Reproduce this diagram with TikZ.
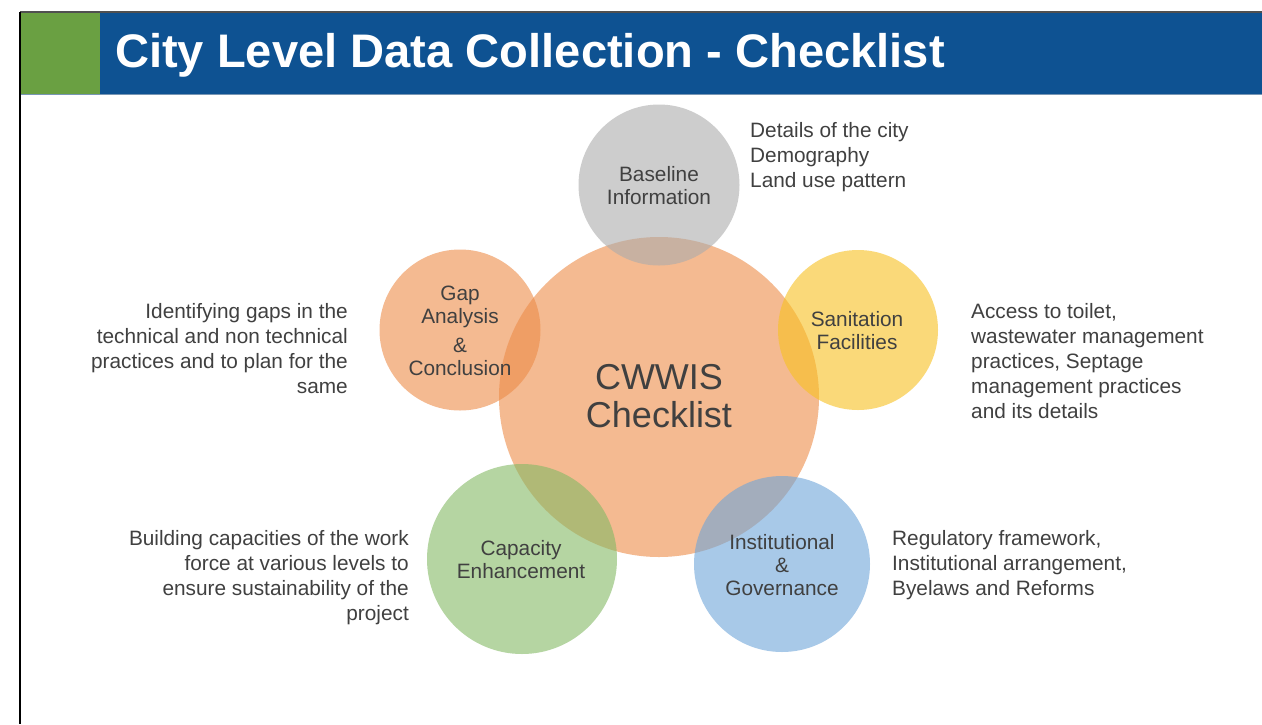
\documentclass[tikz,border=0pt]{standalone}
\usepackage{fontspec}
\setmainfont{Liberation Sans}
\definecolor{hdrblue}{RGB}{14,82,146}
\definecolor{hdrgreen}{RGB}{106,160,66}
\definecolor{txtgray}{RGB}{64,64,64}
\definecolor{corange}{RGB}{237,140,73}
\definecolor{cgray}{RGB}{172,172,172}
\definecolor{cyellow}{RGB}{248,193,33}
\definecolor{cblue}{RGB}{110,165,217}
\definecolor{cgreen}{RGB}{132,185,100}
\tikzset{
  bubble/.style={circle, draw=none, fill opacity=0.6, text opacity=1, inner sep=0pt},
  bublabel/.style={align=center, text=txtgray, font=\fontsize{20.8}{23}\selectfont, inner sep=0pt},
  bodytext/.style={text=txtgray, font=\fontsize{20.8}{25}\selectfont, inner sep=0pt},
}
\begin{document}
\begin{tikzpicture}[x=1pt,y=-1pt]
\useasboundingbox (0,0) rectangle (1262,724);
\fill[white] (0,0) rectangle (1262,724);
% header
\fill[hdrgreen] (20,13) rectangle (100,94);
\fill[hdrblue] (100,13) rectangle (1262,94);
\draw[line width=0.8pt, color={rgb,255:red,120;green,150;blue,180}] (20,94.5) -- (1262,94.5);
\draw[line width=1.5pt, color={rgb,255:red,80;green,80;blue,80}] (20,12) -- (1262,12);
\draw[line width=1.5pt, black] (20,12) -- (20,724);
\node[anchor=west, text=white, font=\fontsize{47.1}{50}\selectfont\bfseries, inner sep=0pt] (title) at (115,55) {City Level Data Collection - Checklist};
% circles
\node[bubble, fill=corange, minimum size=320pt] (main) at (659,397) {};
\node[bubble, fill=cgray, minimum size=161pt] (base) at (659,185) {};
\node[bubble, fill=corange, minimum size=161pt] (gap) at (460,330) {};
\node[bubble, fill=cyellow, minimum size=160pt] (san) at (858,330) {};
\node[bubble, fill=cblue, minimum size=176pt] (inst) at (782,564) {};
\node[bubble, fill=cgreen, minimum size=190pt] (cap) at (522,559) {};
% circle labels
\node[bublabel, font=\fontsize{36}{38}\selectfont] (mainl) at (659,396) {CWWIS\\Checklist};
\node[bublabel] (basel) at (659,186) {Baseline\\Information};
\node[bublabel] (gapl) at (460,331) {Gap\\Analysis\\[6pt]\&\\Conclusion};
\node[bublabel] (sanl) at (857,331) {Sanitation\\Facilities};
\node[bublabel] (instl) at (782,565) {Institutional\\\&\\Governance};
\node[bublabel] (capl) at (521,560) {Capacity\\Enhancement};
% descriptions
\node[bodytext, anchor=west, align=left] (based) at (750,157) {Details of the city\\Demography\\Land use pattern};
\node[bodytext, anchor=west, align=left] (sand) at (971,361) {Access to toilet,\\wastewater management\\practices, Septage\\management practices\\and its details};
\node[bodytext, anchor=east, align=right] (gapd) at (348,348.5) {Identifying gaps in the\\technical and non technical\\practices and to plan for the\\same};
\node[bodytext, anchor=east, align=right] (capd) at (409,578) {Building capacities of the work\\force at various levels to\\ensure sustainability of the\\project};
\node[bodytext, anchor=west, align=left] (instd) at (892,565.5) {Regulatory framework,\\Institutional arrangement,\\Byelaws and Reforms};
\end{tikzpicture}
\end{document}
